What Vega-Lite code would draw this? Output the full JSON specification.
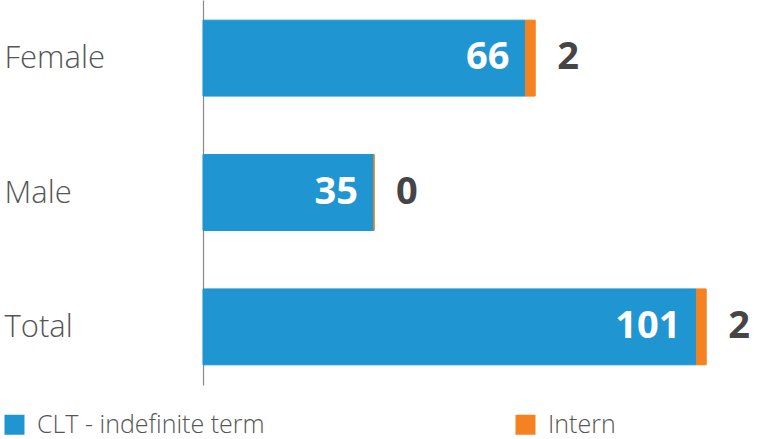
{
  "$schema": "https://vega.github.io/schema/vega-lite/v6.json",
  "width": 555,
  "height": 385,
  "autosize": "none",
  "padding": {"left": 203, "top": 0, "right": 0, "bottom": 54},
  "background": "white",
  "config": {"view": {"stroke": null}, "font": "Open Sans"},
  "data": {"values": [
    {"category": "Female", "type": "CLT - indefinite term", "value": 66},
    {"category": "Female", "type": "Intern", "value": 2},
    {"category": "Male", "type": "CLT - indefinite term", "value": 35},
    {"category": "Male", "type": "Intern", "value": 0},
    {"category": "Total", "type": "CLT - indefinite term", "value": 101},
    {"category": "Total", "type": "Intern", "value": 2}
  ]},
  "encoding": {
    "y": {
      "field": "category", "type": "nominal", "sort": ["Female", "Male", "Total"],
      "scale": {"paddingInner": 0.435, "paddingOuter": 0.15},
      "axis": {
        "title": null, "ticks": false, "tickSize": 0, "domainColor": "#8a8a8a", "domainWidth": 1.2,
        "labelAlign": "left", "labelPadding": 199, "labelFontSize": 31, "labelFont": "Open Sans",
        "labelFontWeight": 300, "labelColor": "#555555", "labelOffset": 1, "grid": false
      }
    }
  },
  "layer": [
    {
      "mark": {"type": "bar", "strokeWidth": 1},
      "encoding": {
        "x": {"field": "value", "type": "quantitative", "stack": "zero", "scale": {"domain": [0, 113.6], "nice": false}, "axis": null},
        "color": {
          "field": "type", "type": "nominal",
          "scale": {"domain": ["CLT - indefinite term", "Intern"], "range": ["#1f95d2", "#f58220"]},
          "legend": {
            "title": null, "orient": "none", "legendX": -201, "legendY": 412, "direction": "horizontal",
            "columns": 2, "columnPadding": 248, "symbolType": "square", "symbolSize": 400,
            "symbolStrokeWidth": 0, "labelFontSize": 25, "labelFont": "Open Sans", "labelFontWeight": 300,
            "labelColor": "#555555", "labelOffset": 10, "labelLimit": 400
          }
        },
        "stroke": {
          "field": "type", "type": "nominal",
          "scale": {"domain": ["CLT - indefinite term", "Intern"], "range": ["#1f95d2", "#f58220"]},
          "legend": null
        },
        "order": {"field": "type", "sort": "ascending"}
      }
    },
    {
      "transform": [{"filter": "datum.type == 'CLT - indefinite term'"}],
      "mark": {"type": "text", "align": "right", "baseline": "middle", "dx": -16, "fontSize": 38, "fontWeight": "bold", "color": "white", "font": "Open Sans"},
      "encoding": {
        "x": {"field": "value", "type": "quantitative"},
        "text": {"field": "value", "type": "quantitative"}
      }
    },
    {
      "transform": [
        {"joinaggregate": [{"op": "sum", "field": "value", "as": "total"}], "groupby": ["category"]},
        {"filter": "datum.type == 'Intern'"}
      ],
      "mark": {"type": "text", "align": "left", "baseline": "middle", "dx": 22, "fontSize": 38, "fontWeight": "bold", "color": "#454545", "font": "Open Sans"},
      "encoding": {
        "x": {"field": "total", "type": "quantitative"},
        "text": {"field": "value", "type": "quantitative"}
      }
    }
  ]
}
